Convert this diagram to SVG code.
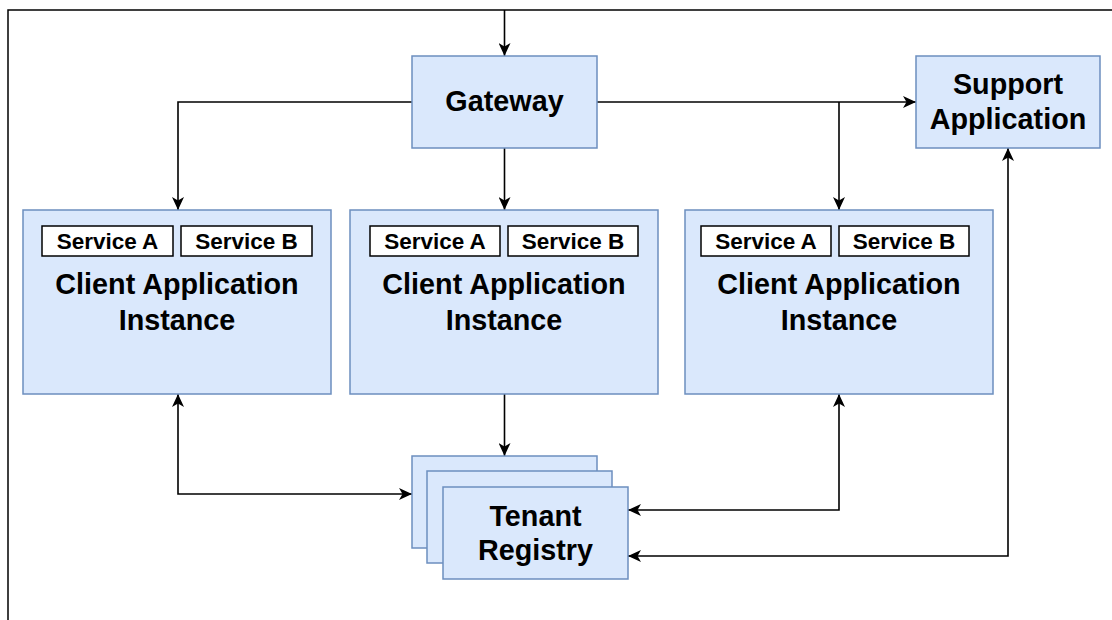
<svg xmlns="http://www.w3.org/2000/svg" width="1112" height="620" viewBox="0 0 1112 620">
<style>
.box{fill:#dae8fc;stroke:#6c8ebf;stroke-width:1.5}
.svc{fill:#ffffff;stroke:#000000;stroke-width:1.5}
.t{font-family:"Liberation Sans",Arial,Helvetica,sans-serif;font-weight:bold;fill:#000;text-anchor:middle}
.big{font-size:28.75px}
.small{font-size:22.5px}
.c{fill:none;stroke:#000;stroke-width:1.6}
</style>
<defs>
<marker id="arr" viewBox="0 0 13 12" refX="13" refY="6" markerWidth="13" markerHeight="12" markerUnits="userSpaceOnUse" orient="auto-start-reverse">
<path d="M0,0 L13,6 L0,12 L3.5,6 Z" fill="#000"/>
</marker>
</defs>
<rect x="8" y="10" width="1200" height="700" fill="none" stroke="#000" stroke-width="1.5"/>
<g id="connectors">
<path class="c" d="M504.5,10 V56" marker-end="url(#arr)"/>
<path class="c" d="M412,102 H178 V210" marker-end="url(#arr)"/>
<path class="c" d="M504.5,148 V210" marker-end="url(#arr)"/>
<path class="c" d="M597,102 H916" marker-end="url(#arr)"/>
<path class="c" d="M839,102 V210" marker-end="url(#arr)"/>
<path class="c" d="M178,394 V494 H412" marker-start="url(#arr)" marker-end="url(#arr)"/>
<path class="c" d="M504.5,394 V456" marker-end="url(#arr)"/>
<path class="c" d="M839,394 V510 H628" marker-start="url(#arr)" marker-end="url(#arr)"/>
<path class="c" d="M1008,148 V556 H628" marker-start="url(#arr)" marker-end="url(#arr)"/>
</g>
<g id="gateway">
<rect class="box" x="412" y="56" width="185" height="92"/>
<text class="t big" x="504.5" y="111">Gateway</text>
</g>
<g id="support">
<rect class="box" x="916" y="56" width="184" height="92"/>
<text class="t big" x="1008" y="94">Support</text>
<text class="t big" x="1008" y="129">Application</text>
</g>
<g id="client1">
<rect class="box" x="23" y="210" width="308" height="184"/>
<rect class="svc" x="42" y="226" width="131" height="30"/>
<text class="t small" x="107.5" y="249">Service A</text>
<rect class="svc" x="181" y="226" width="131" height="30"/>
<text class="t small" x="246.5" y="249">Service B</text>
<text class="t big" x="177" y="294">Client Application</text>
<text class="t big" x="177" y="329.5">Instance</text>
</g>
<g id="client2">
<rect class="box" x="350" y="210" width="308" height="184"/>
<rect class="svc" x="370" y="226" width="130" height="30"/>
<text class="t small" x="435" y="249">Service A</text>
<rect class="svc" x="508" y="226" width="130" height="30"/>
<text class="t small" x="573" y="249">Service B</text>
<text class="t big" x="504" y="294">Client Application</text>
<text class="t big" x="504" y="329.5">Instance</text>
</g>
<g id="client3">
<rect class="box" x="685" y="210" width="308" height="184"/>
<rect class="svc" x="701" y="226" width="130" height="30"/>
<text class="t small" x="766" y="249">Service A</text>
<rect class="svc" x="839" y="226" width="130" height="30"/>
<text class="t small" x="904" y="249">Service B</text>
<text class="t big" x="839" y="294">Client Application</text>
<text class="t big" x="839" y="329.5">Instance</text>
</g>
<g id="tenant">
<rect class="box" x="412" y="456" width="185" height="92"/>
<rect class="box" x="427" y="471" width="185" height="92"/>
<rect class="box" x="443" y="487" width="185" height="92"/>
<text class="t big" x="535.5" y="525.5">Tenant</text>
<text class="t big" x="535.5" y="560">Registry</text>
</g>
</svg>
